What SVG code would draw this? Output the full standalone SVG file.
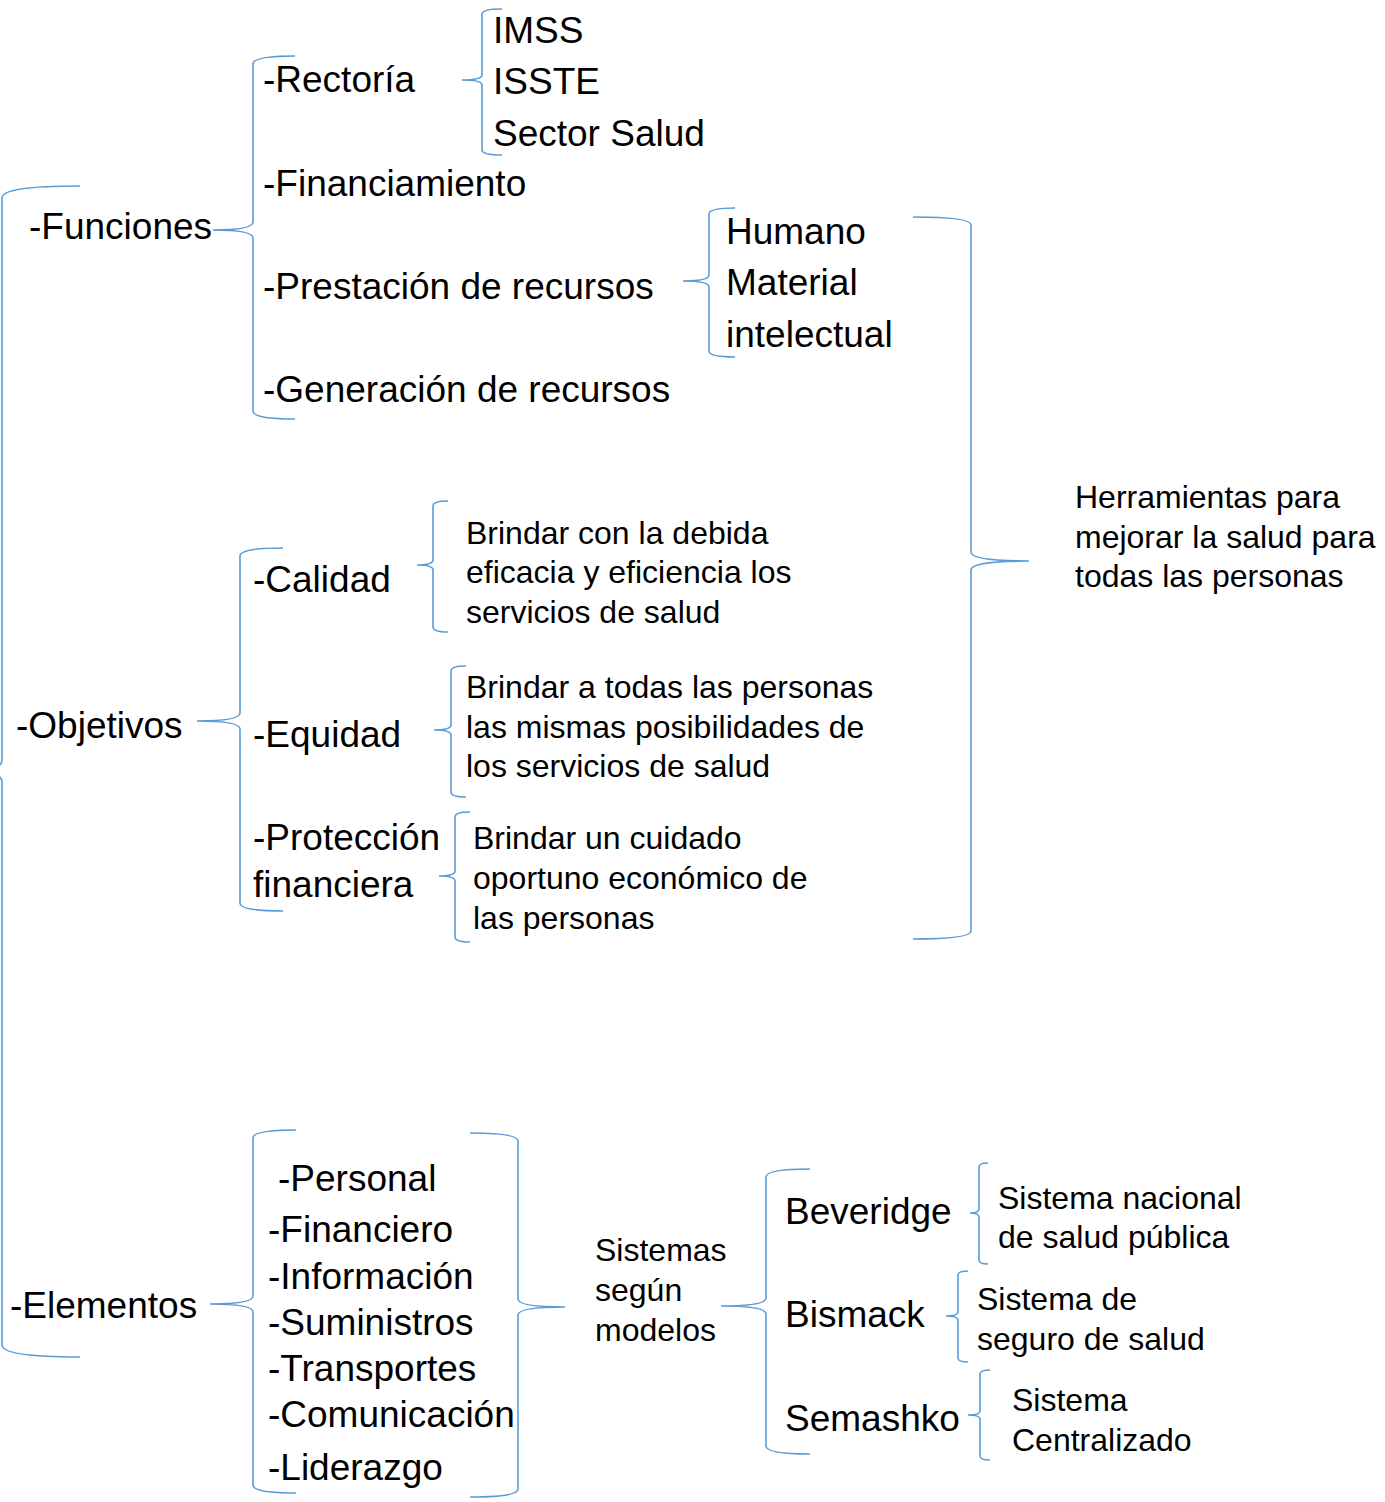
<svg xmlns="http://www.w3.org/2000/svg" width="1385" height="1502" viewBox="0 0 1385 1502">
<style>
text{font-family:"Liberation Sans",Arial,sans-serif;fill:#000}
.l{font-size:37px}
.s{font-size:32px}
.b{fill:none;stroke:#5B9BD5;stroke-width:1.6}
</style>
<rect width="1385" height="1502" fill="#fff"/>
<g id="connectors">
<path class="b" d="M80,186 Q2,186 2,198 L2,760 Q2,771 -30,771 Q2,771 2,782 L2,1345 Q2,1357 80,1357"/>
<path class="b" d="M295,56 Q253,56 253,64 L253,222 Q253,230 213,230 Q253,230 253,238 L253,411 Q253,419 295,419"/>
<path class="b" d="M502,9 Q482,9 482,14 L482,75 Q482,80 462,80 Q482,80 482,85 L482,150 Q482,155 502,155"/>
<path class="b" d="M735,208 Q709,208 709,214 L709,275 Q709,281 683,281 Q709,281 709,287 L709,351 Q709,357 735,357"/>
<path class="b" d="M913,217 Q971,217 971,225 L971,552 Q971,561 1029,561 Q971,561 971,570 L971,931 Q971,939 913,939"/>
<path class="b" d="M283,548 Q240,548 240,556 L240,713 Q240,721 197,721 Q240,721 240,729 L240,903 Q240,911 283,911"/>
<path class="b" d="M448,501 Q433,501 433,506 L433,560 Q433,565 417,565 Q433,565 433,570 L433,627 Q433,632 448,632"/>
<path class="b" d="M466,666 Q451,666 451,671 L451,725 Q451,730 434,730 Q451,730 451,735 L451,792 Q451,797 466,797"/>
<path class="b" d="M470,812 Q455,812 455,817 L455,871 Q455,876 439,876 Q455,876 455,881 L455,937 Q455,942 470,942"/>
<path class="b" d="M296,1130 Q253,1130 253,1138 L253,1296 Q253,1304 210,1304 Q253,1304 253,1312 L253,1485 Q253,1493 296,1493"/>
<path class="b" d="M470,1133 Q518,1133 518,1141 L518,1299 Q518,1307 565,1307 Q518,1307 518,1315 L518,1489 Q518,1497 470,1497"/>
<path class="b" d="M810,1169 Q766,1169 766,1177 L766,1298 Q766,1306 721,1306 Q766,1306 766,1314 L766,1446 Q766,1454 810,1454"/>
<path class="b" d="M988,1163 Q979,1163 979,1167 L979,1209 Q979,1213 970,1213 Q979,1213 979,1217 L979,1260 Q979,1264 988,1264"/>
<path class="b" d="M968,1271 Q958,1271 958,1275 L958,1312 Q958,1316 946,1316 Q958,1316 958,1320 L958,1358 Q958,1362 968,1362"/>
<path class="b" d="M990,1370 Q980,1370 980,1374 L980,1411 Q980,1415 968,1415 Q980,1415 980,1419 L980,1456 Q980,1460 990,1460"/>
</g>
<g id="funciones"><text class="l" x="29" y="239">-Funciones</text></g>
<g id="rectoria"><text class="l" x="263" y="92">-Rectoría</text></g>
<g id="imss"><text class="l" x="493" y="43">IMSS</text></g>
<g id="isste"><text class="l" x="493" y="94">ISSTE</text></g>
<g id="sector-salud"><text class="l" x="493" y="146">Sector Salud</text></g>
<g id="financiamiento"><text class="l" x="263" y="196">-Financiamiento</text></g>
<g id="prestacion"><text class="l" x="263" y="299">-Prestación de recursos</text></g>
<g id="humano"><text class="l" x="726" y="244">Humano</text></g>
<g id="material"><text class="l" x="726" y="295">Material</text></g>
<g id="intelectual"><text class="l" x="726" y="347">intelectual</text></g>
<g id="generacion"><text class="l" x="263" y="402">-Generación de recursos</text></g>
<g id="herramientas"><text class="s" x="1075" y="508">Herramientas para</text><text class="s" x="1075" y="548">mejorar la salud para</text><text class="s" x="1075" y="587">todas las personas</text></g>
<g id="objetivos"><text class="l" x="16" y="738">-Objetivos</text></g>
<g id="calidad"><text class="l" x="253" y="592">-Calidad</text></g>
<g id="calidad-desc"><text class="s" x="466" y="544">Brindar con la debida</text><text class="s" x="466" y="583">eficacia y eficiencia los</text><text class="s" x="466" y="623">servicios de salud</text></g>
<g id="equidad"><text class="l" x="253" y="747">-Equidad</text></g>
<g id="equidad-desc"><text class="s" x="466" y="698">Brindar a todas las personas</text><text class="s" x="466" y="738">las mismas posibilidades de</text><text class="s" x="466" y="777">los servicios de salud</text></g>
<g id="proteccion"><text class="l" x="253" y="850">-Protección</text><text class="l" x="253" y="897">financiera</text></g>
<g id="proteccion-desc"><text class="s" x="473" y="849">Brindar un cuidado</text><text class="s" x="473" y="889">oportuno económico de</text><text class="s" x="473" y="929">las personas</text></g>
<g id="elementos"><text class="l" x="10" y="1318">-Elementos</text></g>
<g id="elementos-lista">
<text class="l" x="278" y="1191">-Personal</text>
<text class="l" x="268" y="1242">-Financiero</text>
<text class="l" x="268" y="1289">-Información</text>
<text class="l" x="268" y="1335">-Suministros</text>
<text class="l" x="268" y="1381">-Transportes</text>
<text class="l" x="268" y="1427">-Comunicación</text>
<text class="l" x="268" y="1480">-Liderazgo</text>
</g>
<g id="sistemas"><text class="s" x="595" y="1261">Sistemas</text><text class="s" x="595" y="1301">según</text><text class="s" x="595" y="1341">modelos</text></g>
<g id="beveridge"><text class="l" x="785" y="1224">Beveridge</text></g>
<g id="bismack"><text class="l" x="785" y="1327">Bismack</text></g>
<g id="semashko"><text class="l" x="785" y="1431">Semashko</text></g>
<g id="beveridge-desc"><text class="s" x="998" y="1209">Sistema nacional</text><text class="s" x="998" y="1248">de salud pública</text></g>
<g id="bismack-desc"><text class="s" x="977" y="1310">Sistema de</text><text class="s" x="977" y="1350">seguro de salud</text></g>
<g id="semashko-desc"><text class="s" x="1012" y="1411">Sistema</text><text class="s" x="1012" y="1451">Centralizado</text></g>
</svg>
